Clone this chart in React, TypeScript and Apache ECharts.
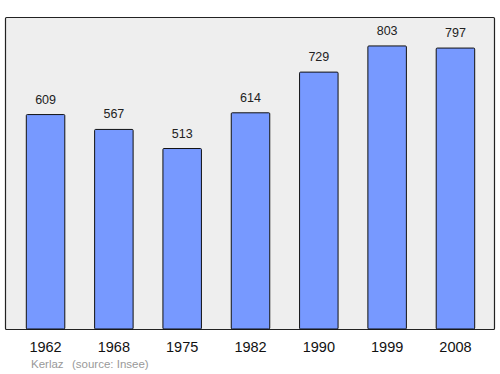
import React, { useEffect, useRef } from "react";
import * as echarts from "echarts";

const years = ["1962", "1968", "1975", "1982", "1990", "1999", "2008"];
const population = [609, 567, 513, 614, 729, 803, 797];
const footerName = "Kerlaz";
const footerSource = "(source: Insee)";

export default function App() {
  const ref = useRef<HTMLDivElement>(null);
  useEffect(() => {
    const chart = echarts.init(ref.current!, null, { renderer: "svg" });
    chart.setOption({
      animation: false,
      backgroundColor: "#ffffff",
      graphic: [
        {
          type: "rect",
          z: -10,
          shape: { x: 5.5, y: 17.5, width: 489, height: 312, r: 1 },
          style: { fill: "#eeeeee", stroke: "#222222", lineWidth: 1.2 },
          silent: true,
        },
        {
          type: "text",
          left: 31,
          top: 358,
          style: { text: footerName, fill: "#999999", font: "11.5px 'Liberation Sans', Arial, sans-serif" },
        },
        {
          type: "text",
          left: 72,
          top: 358,
          style: { text: footerSource, fill: "#999999", font: "11.5px 'Liberation Sans', Arial, sans-serif" },
        },
      ],
      grid: { left: 11.4, right: 10.4, top: 17.5, bottom: 44.5, containLabel: false },
      xAxis: {
        type: "category",
        data: years,
        axisLine: { show: false },
        axisTick: { show: false },
        axisLabel: {
          color: "#111111",
          fontSize: 14.5,
          fontFamily: "'Liberation Sans', Arial, sans-serif",
          margin: 10,
        },
      },
      yAxis: {
        type: "value",
        min: 0,
        max: 882,
        show: false,
        splitLine: { show: false },
      },
      series: [
        {
          type: "bar",
          data: population,
          barWidth: 39.5,
          itemStyle: { color: "#7799ff", borderColor: "#111111", borderWidth: 1, borderRadius: 1 },
          label: {
            show: true,
            position: "top",
            distance: 8,
            color: "#222222",
            fontSize: 12.5,
            fontFamily: "'Liberation Sans', Arial, sans-serif",
          },
        },
      ],
    });
    return () => chart.dispose();
  }, []);
  return <div ref={ref} style={{ width: 500, height: 374, position: "absolute", left: 0, top: 0 }} />;
}
